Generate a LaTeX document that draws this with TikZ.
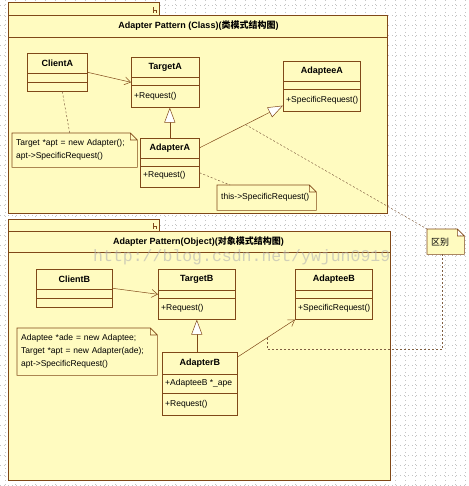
\documentclass[tikz,border=0pt]{standalone}
\usepackage{fontspec}
\setmainfont{Liberation Sans}
\newfontfamily\cjk{Noto Sans CJK SC}
\newfontfamily\wmfont{Liberation Mono}
\usetikzlibrary{arrows.meta}

\definecolor{umlfill}{RGB}{255,251,192}
\definecolor{umlline}{RGB}{128,72,24}
\definecolor{griddot}{RGB}{196,196,196}

\pgfdeclarelayer{front}
\pgfsetlayers{main,front}

\tikzset{
  gridline/.style={griddot, line width=0.4pt, dash pattern=on 0.5pt off 3.5pt},
  pkgbox/.style={draw=umlline, fill=umlfill, line width=0.7pt},
  pkgtitle/.style={font=\fontsize{9}{10}\selectfont\bfseries, inner sep=0pt},
  classbox/.style={draw=umlline, fill=umlfill, line width=0.6pt, inner sep=0pt, anchor=north west},
  sepline/.style={draw=umlline, line width=0.5pt},
  classname/.style={font=\fontsize{9}{10}\selectfont\bfseries, inner sep=0pt},
  member/.style={font=\fontsize{8.5}{10}\selectfont, inner sep=0pt, anchor=west},
  notebox/.style={inner xsep=4pt, inner ysep=0pt, anchor=north west, align=left, font=\fontsize{8.5}{13}\selectfont},
  notepath/.style={draw=umlline, fill=umlfill, line width=0.6pt},
  assoc/.style={draw=umlline, line width=0.5pt, -{Straight Barb[length=6pt,width=8pt]}},
  generalize/.style={draw=umlline, line width=0.5pt, -{Triangle[length=15pt,width=11pt,fill=white]}},
  anchorline/.style={draw=umlline!60!gray, line width=0.5pt, dash pattern=on 2pt off 2pt},
}

\begin{document}
\begin{tikzpicture}[x=1pt,y=-1pt]
\useasboundingbox (0,0) rectangle (468,486);

% background dots
\foreach \k in {5,15,...,485} \draw[gridline] (0,\k) -- (468,\k);
\foreach \k in {5,15,...,465} \draw[gridline] (\k,0) -- (\k,486);

% package: class adapter
\draw[pkgbox] (8,2) rectangle (159,15);
\draw[umlline, line width=0.5pt] (153,13) -- (153,7) (153,10) -- (156,10) -- (156,13);
\draw[pkgbox] (8,15) rectangle (387,213);
\draw[sepline] (8,37) -- (387,37);
\node[pkgtitle] (titleA) at (198.5,26) {Adapter Pattern (Class)({\cjk 类模式结构图})};

% package: object adapter
\draw[pkgbox] (8,219) rectangle (159,231);
\draw[umlline, line width=0.5pt] (153,229) -- (153,223) (153,226) -- (156,226) -- (156,229);
\draw[pkgbox] (8,231) rectangle (390,480);
\draw[sepline] (8,252) -- (390,252);
\node[pkgtitle] (titleB) at (198.5,242) {Adapter Pattern(Object)({\cjk 对象模式结构图})};

% ClientA
\node[classbox, minimum width=60, minimum height=38] (ClientA) at (27,53) {};
\draw[sepline] ([yshift=-20pt]ClientA.north west) -- ([yshift=-20pt]ClientA.north east);
\draw[sepline] ([yshift=-29pt]ClientA.north west) -- ([yshift=-29pt]ClientA.north east);
\node[classname] at ([yshift=-10pt]ClientA.north) {ClientA};

% TargetA
\node[classbox, minimum width=68, minimum height=50] (TargetA) at (131,57) {};
\draw[sepline] ([yshift=-20pt]TargetA.north west) -- ([yshift=-20pt]TargetA.north east);
\draw[sepline] ([yshift=-28pt]TargetA.north west) -- ([yshift=-28pt]TargetA.north east);
\node[classname] at ([yshift=-10pt]TargetA.north) {TargetA};
\node[member] at ([xshift=3pt,yshift=-39pt]TargetA.north west) {+Request()};

% AdapteeA
\node[classbox, minimum width=77, minimum height=50] (AdapteeA) at (283,61) {};
\draw[sepline] ([yshift=-20pt]AdapteeA.north west) -- ([yshift=-20pt]AdapteeA.north east);
\draw[sepline] ([yshift=-28pt]AdapteeA.north west) -- ([yshift=-28pt]AdapteeA.north east);
\node[classname] at ([yshift=-10pt]AdapteeA.north) {AdapteeA};
\node[member] at ([xshift=3pt,yshift=-39pt]AdapteeA.north west) {+SpecificRequest()};

% AdapterA
\node[classbox, minimum width=59, minimum height=49] (AdapterA) at (140,138) {};
\draw[sepline] ([yshift=-20pt]AdapterA.north west) -- ([yshift=-20pt]AdapterA.north east);
\draw[sepline] ([yshift=-28pt]AdapterA.north west) -- ([yshift=-28pt]AdapterA.north east);
\node[classname] at ([yshift=-10pt]AdapterA.north) {AdapterA};
\node[member] at ([xshift=3pt,yshift=-37pt]AdapterA.north west) {+Request()};

% ClientB
\node[classbox, minimum width=76, minimum height=38] (ClientB) at (36,269) {};
\draw[sepline] ([yshift=-20pt]ClientB.north west) -- ([yshift=-20pt]ClientB.north east);
\draw[sepline] ([yshift=-29pt]ClientB.north west) -- ([yshift=-29pt]ClientB.north east);
\node[classname] at ([yshift=-10pt]ClientB.north) {ClientB};

% TargetB
\node[classbox, minimum width=77, minimum height=50] (TargetB) at (158,269) {};
\draw[sepline] ([yshift=-21pt]TargetB.north west) -- ([yshift=-21pt]TargetB.north east);
\draw[sepline] ([yshift=-29pt]TargetB.north west) -- ([yshift=-29pt]TargetB.north east);
\node[classname] at ([yshift=-10.5pt]TargetB.north) {TargetB};
\node[member] at ([xshift=3pt,yshift=-39.5pt]TargetB.north west) {+Request()};

% AdapteeB
\node[classbox, minimum width=77, minimum height=50] (AdapteeB) at (295,269) {};
\draw[sepline] ([yshift=-21pt]AdapteeB.north west) -- ([yshift=-21pt]AdapteeB.north east);
\draw[sepline] ([yshift=-29pt]AdapteeB.north west) -- ([yshift=-29pt]AdapteeB.north east);
\node[classname] at ([yshift=-10.5pt]AdapteeB.north) {AdapteeB};
\node[member] at ([xshift=3pt,yshift=-39.5pt]AdapteeB.north west) {+SpecificRequest()};

% AdapterB
\node[classbox, minimum width=75, minimum height=63] (AdapterB) at (162,352) {};
\draw[sepline] ([yshift=-22pt]AdapterB.north west) -- ([yshift=-22pt]AdapterB.north east);
\draw[sepline] ([yshift=-41pt]AdapterB.north west) -- ([yshift=-41pt]AdapterB.north east);
\node[classname] at ([yshift=-11pt]AdapterB.north) {AdapterB};
\node[member] at ([xshift=3pt,yshift=-31.5pt]AdapterB.north west) {+AdapteeB *\_ape};
\node[member] at ([xshift=3pt,yshift=-52pt]AdapterB.north west) {+Request()};

% notes (text in front of their outlines)
\begin{pgfonlayer}{front}
\node[notebox, text width=117pt, minimum height=34pt] (noteA) at (12,133) {Target *apt = new Adapter();\\apt->SpecificRequest()};
\node[notebox, text width=91pt, minimum height=25pt] (noteThis) at (217,185) {this->SpecificRequest()};
\node[notebox, text width=29pt, minimum height=25pt, font=\cjk\fontsize{9}{10}\selectfont] (diff) at (427,229) {区别};
\node[notebox, text width=132pt, minimum height=47pt] (noteB) at (17,328) {Adaptee *ade = new Adaptee;\\Target *apt = new Adapter(ade);\\apt->SpecificRequest()};
\end{pgfonlayer}
\foreach \n in {noteA,noteThis,diff,noteB}
  \draw[notepath] (\n.south west) -- (\n.north west) -- ([xshift=-7pt]\n.north east)
    -- ([yshift=-7pt]\n.north east) -- (\n.south east) -- cycle
    ([xshift=-7pt]\n.north east) |- ([yshift=-7pt]\n.north east);

% relations
\draw[assoc] (ClientA.east) -- (TargetA.west);
\draw[generalize] (AdapterA.north) -- (AdapterA.north |- TargetA.south);
\draw[generalize] ([yshift=15pt]AdapterA.east) -- coordinate[pos=0.55] (genmid) ([yshift=6pt]AdapteeA.south west);
\draw[assoc] (ClientB.east) -- (TargetB.west);
\draw[generalize] (TargetB.south |- AdapterB.north) -- (TargetB.south);
\draw[assoc] ([yshift=-5pt]AdapterB.north east) -- coordinate[pos=0.52] (assocmid) (AdapteeB.south west);

% note links
\draw[anchorline] ([xshift=5pt]ClientA.south) -- ([xshift=-5pt]noteA.north);
\draw[anchorline] ([yshift=-10pt]AdapterA.east) -- ([xshift=13pt]noteThis.north west);
\draw[anchorline] (genmid) -- (diff.north west);
\draw[anchorline] ([xshift=-3pt]diff.south) |- ([yshift=-12pt]assocmid) -- (assocmid);

% watermark
\begin{pgfonlayer}{front}
\node[font=\wmfont\fontsize{16.5}{18}\selectfont, text=black!30, opacity=0.6, anchor=base west, inner sep=0pt] (mark) at (93,261) {http://blog.csdn.net/ywjun0919};
\end{pgfonlayer}
\end{tikzpicture}
\end{document}
